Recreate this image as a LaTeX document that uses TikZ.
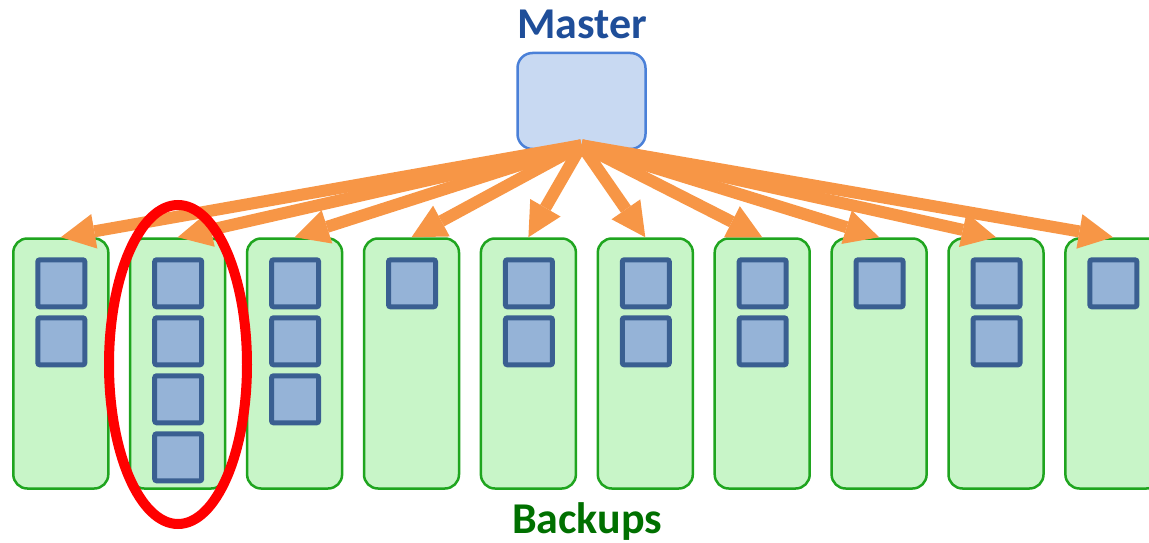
\documentclass[tikz,border=0pt]{standalone}
\usepackage{fontspec}
\setmainfont{Carlito}
\usetikzlibrary{arrows.meta,calc,shapes.geometric}
\definecolor{mtext}{HTML}{1F4E99}
\definecolor{btext}{HTML}{007000}
\definecolor{mfill}{HTML}{C8D9F2}
\definecolor{mdraw}{HTML}{4A80D8}
\definecolor{bfill}{HTML}{C8F5C8}
\definecolor{bdraw}{HTML}{1FA51F}
\definecolor{sfill}{HTML}{95B3D7}
\definecolor{sdraw}{HTML}{3A5F91}
\definecolor{arrowc}{HTML}{F79646}
\tikzset{
  title/.style={font=\fontsize{44}{52}\selectfont\bfseries, anchor=base, inner sep=0pt},
  masterbox/.style={draw=mdraw, fill=mfill, line width=2.5pt, rounded corners=15pt, minimum width=128pt, minimum height=96pt, inner sep=0pt},
  backupbox/.style={draw=bdraw, fill=bfill, line width=2.5pt, rounded corners=14pt, minimum width=95pt, minimum height=250pt, inner sep=0pt},
  chunk/.style={draw=sdraw, fill=sfill, line width=5pt, rounded corners=2pt, minimum size=47pt, inner sep=0pt},
  push/.style={draw=arrowc, line width=12pt, -{Triangle[length=34pt,width=35pt,line width=0pt]}},
  ring/.style={draw=red, line width=10pt, ellipse, inner sep=0pt}
}
\begin{document}
\begin{tikzpicture}[x=1pt,y=-1pt]
\useasboundingbox (0,0) rectangle (1149,543);
\node[title, text=mtext] (mlabel) at (582,39) {Master};
\node[title, text=btext] (blabel) at (587,533) {Backups};
\node[masterbox] (master) at (581.5,101) {};
% backup boxes
\foreach \i/\n in {1/2,2/4,3/3,4/1,5/2,6/2,7/2,8/1,9/2,10/1}{
  \pgfmathsetmacro{\cx}{60.8+116.9*(\i-1)}
  \node[backupbox] (b\i) at (\cx,363.5) {};
  \foreach \k in {1,...,\n}{
    \node[chunk] (s\i-\k) at (\cx+0.5,{283.3+58*(\k-1)}) {};
  }
}
\coordinate (src) at ($(master.south)+(0,-5)$);
\foreach \i in {1,...,10}{
  \draw[push] (src) -- (b\i.north);
}
\node[ring, minimum width=138pt, minimum height=319pt] (circ) at (178,364.5) {};
\end{tikzpicture}
\end{document}
